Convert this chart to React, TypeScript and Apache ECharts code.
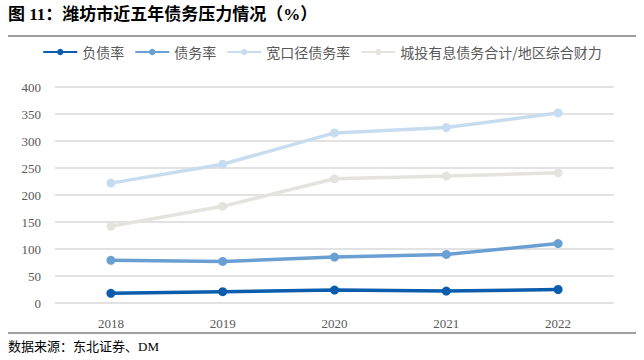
import React, { useEffect, useRef } from "react";
import * as echarts from "echarts";

const years = ["2018", "2019", "2020", "2021", "2022"];
const liabilityRate = [18, 21, 24, 22, 25];
const debtRate = [79, 77, 85, 90, 110];
const broadDebtRate = [222, 257, 315, 325, 352];
const cityInvestRatio = [142, 179, 230, 235, 241];
const seriesNames = ["负债率", "债务率", "宽口径债务率", "城投有息债务合计/地区综合财力"];
const colors = ["#0b5cad", "#6a9fd3", "#c8dcf0", "#e5e3de"];

export default function App() {
  const ref = useRef<HTMLDivElement>(null);
  useEffect(() => {
    const chart = echarts.init(ref.current!, null, { renderer: "svg" });
    const datas = [liabilityRate, debtRate, broadDebtRate, cityInvestRatio];
    chart.setOption({
      animation: false,
      color: colors,
      grid: { left: 55, right: 30, top: 87, bottom: 57 },
      legend: {
        top: 40,
        left: "center",
        itemWidth: 34,
        itemHeight: 8,
        itemGap: 10,
        textStyle: { color: "#595959", fontSize: 14, fontFamily: "Noto Sans CJK SC" },
        data: seriesNames,
      },
      xAxis: {
        type: "category",
        data: years,
        axisLine: { show: false },
        axisTick: { show: false },
        axisLabel: { color: "#595959", fontSize: 13, fontFamily: "Liberation Serif", margin: 14 },
      },
      yAxis: {
        type: "value",
        min: 0,
        max: 400,
        interval: 50,
        axisLabel: { color: "#595959", fontSize: 13, fontFamily: "Liberation Serif", margin: 14 },
        splitLine: { lineStyle: { color: "#d9d9d9", width: 1.5 } },
      },
      series: datas.map((d, i) => ({
        name: seriesNames[i],
        type: "line",
        data: d,
        symbol: "circle",
        symbolSize: 9,
        lineStyle: { width: 3.5, color: colors[i] },
        itemStyle: { color: colors[i] },
        z: 10 - i,
      })),
      graphic: [
        {
          type: "text",
          left: 8,
          top: 6,
          style: {
            text: "图 11：潍坊市近五年债务压力情况（%）",
            fontSize: 17,
            fontWeight: "bold",
            fill: "#000",
            fontFamily: "Liberation Serif, Noto Sans CJK SC",
          },
        },
        {
          type: "line",
          shape: { x1: 8, y1: 36, x2: 636, y2: 36 },
          style: { stroke: "#7f7f7f", lineWidth: 1.5 },
        },
        {
          type: "line",
          shape: { x1: 8, y1: 333, x2: 636, y2: 333 },
          style: { stroke: "#7f7f7f", lineWidth: 1.5 },
        },
        {
          type: "text",
          left: 8,
          top: 340,
          style: {
            text: "数据来源：东北证券、DM",
            fontSize: 13,
            fill: "#000",
            fontFamily: "Liberation Serif, Noto Sans CJK SC",
          },
        },
      ],
    });
    return () => chart.dispose();
  }, []);
  return <div ref={ref} style={{ width: 644, height: 360, position: "absolute", left: 0, top: 0 }} />;
}
